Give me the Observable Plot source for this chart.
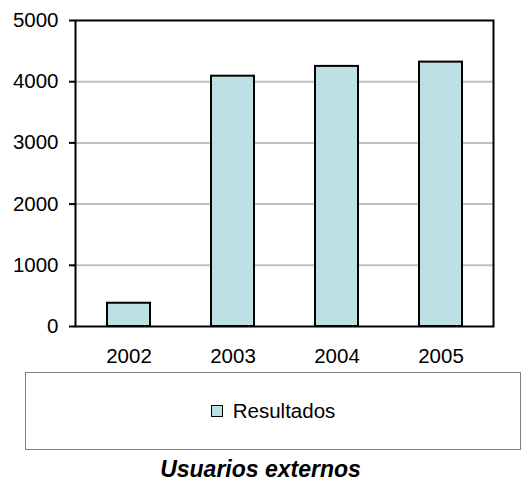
<!DOCTYPE html>
<html>
<head>
<meta charset="utf-8">
<script src="https://cdn.jsdelivr.net/npm/d3@7"></script>
<script src="https://cdn.jsdelivr.net/npm/@observablehq/plot@0.6"></script>
<style>
  body { margin: 0; background: #fff; font-family: "Liberation Sans", Arial, sans-serif; }
  #wrap { position: relative; width: 521px; height: 488px; }
  #legend { position: absolute; left: 25px; top: 372px; width: 494px; height: 76px; border: 1px solid #808080;
            display: flex; align-items: center; justify-content: center; font-size: 20.5px; color: #000; }
  #legend .sw { width: 10px; height: 10px; border: 1.5px solid #000; background: #bce0e3; margin-right: 10px; }
  #title { position: absolute; left: 0; width: 521px; top: 456px; text-align: center; font-weight: bold;
           font-style: italic; font-size: 23px; color: #000; }
</style>
</head>
<body>
<div id="wrap">
  <div id="chart"></div>
  <div id="legend"><span class="sw"></span><span>Resultados</span></div>
  <div id="title">Usuarios externos</div>
</div>
<script>
const years = ["2002", "2003", "2004", "2005"];
const resultados = [380, 4090, 4250, 4320];
const yTicks = [0, 1000, 2000, 3000, 4000, 5000];

const data = years.map((y, i) => ({year: y, value: resultados[i]}));

const chart = Plot.plot({
  width: 521,
  height: 372,
  marginLeft: 75,
  marginRight: 28,
  marginTop: 20,
  marginBottom: 46,
  style: {fontFamily: "'Liberation Sans', Arial, sans-serif", fontSize: "20.5px", color: "#000", background: "#fff"},
  x: {domain: years, paddingInner: 0.59, paddingOuter: 0.295, label: null},
  y: {domain: [0, 5000], label: null},
  marks: [
    Plot.gridY(yTicks.slice(1, -1), {stroke: "#c0c0c0", strokeOpacity: 1, strokeWidth: 2}),
    Plot.barY(data, {x: "year", y: "value", fill: "#bce0e3", stroke: "#000", strokeWidth: 2}),
    Plot.frame({stroke: "#000", strokeWidth: 2}),
    Plot.axisY({ticks: yTicks, tickSize: 6, tickPadding: 11, tickFormat: d => String(d), strokeWidth: 2, label: null, fill: "#000"}),
    Plot.axisX({tickSize: 0, tickPadding: 22, label: null, fill: "#000"})
  ]
});
document.getElementById("chart").appendChild(chart);
</script>
</body>
</html>
